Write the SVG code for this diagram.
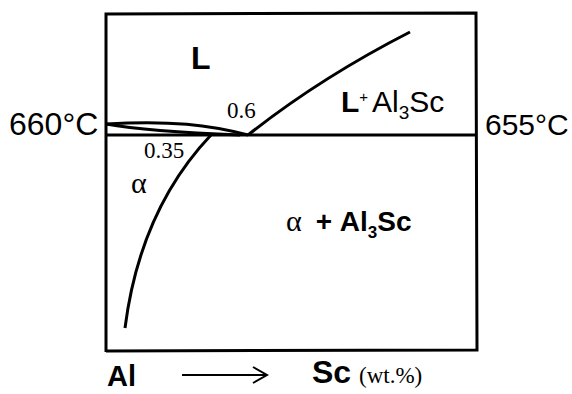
<svg xmlns="http://www.w3.org/2000/svg" width="572" height="394" viewBox="0 0 572 394">
<defs>
<style>
.ln{fill:none;stroke:#000;stroke-width:3}
.sans{font-family:"Liberation Sans",Arial,sans-serif;fill:#000}
.serif{font-family:"Liberation Serif","Times New Roman",serif;fill:#000}
.b{font-weight:bold}
</style>
<marker id="ah" markerWidth="18" markerHeight="20" refX="16" refY="10" orient="auto" markerUnits="userSpaceOnUse">
<path d="M2,2 L16,10 L2,18" fill="none" stroke="#000" stroke-width="2"/>
</marker>
</defs>
<rect width="572" height="394" fill="#fff"/>
<g id="frame">
<path class="ln" d="M106,352 L106,14 L476,13 L477,350 L106,351"/>
<line class="ln" x1="106" y1="135" x2="476" y2="135"/>
</g>
<g id="connectors">
<path class="ln" d="M106,124 C170,120 210,125 248,135"/>
<path class="ln" d="M106,124 C140,130 190,133 240,135"/>
<path class="ln" d="M248,135 Q320,78 410,32"/>
<path class="ln" d="M211,135 Q140,210 125,328"/>
</g>
<g id="labels">
<text class="sans b" x="191" y="69" font-size="32">L</text>
<text class="serif" x="227" y="118" font-size="23">0.6</text>
<text class="serif" x="144" y="158" font-size="23">0.35</text>
<text class="serif" x="131" y="193" font-size="30">α</text>
<text class="sans" x="341" y="112" font-size="30"><tspan class="b" font-size="30">L</tspan><tspan font-size="15" dy="-10">+</tspan><tspan dy="10" dx="4">Al</tspan><tspan font-size="19" dy="7">3</tspan><tspan dy="-7">Sc</tspan></text>
<text class="sans" x="9" y="135" font-size="32">660°C</text>
<text class="sans" x="485" y="135" font-size="30">655°C</text>
<text class="sans b" x="286" y="231" font-size="28"><tspan class="serif" font-weight="normal" font-size="30">α</tspan><tspan dx="14">+ Al</tspan><tspan font-size="17" dy="7">3</tspan><tspan dy="-7">Sc</tspan></text>
<text class="sans b" x="107" y="386" font-size="29">Al</text>
<text class="sans b" x="312" y="383" font-size="32">Sc</text>
<text class="serif" x="359" y="383" font-size="23">(wt.%)</text>
</g>
<g id="axis-arrow">
<line x1="182" y1="375" x2="267" y2="375" stroke="#000" stroke-width="2" marker-end="url(#ah)"/>
</g>
</svg>
